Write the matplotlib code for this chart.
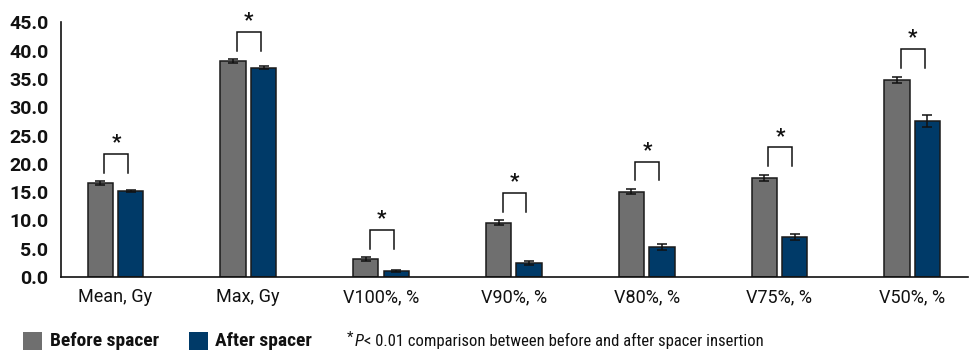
import matplotlib
matplotlib.use("Agg")
import matplotlib.pyplot as plt
from matplotlib import font_manager
from matplotlib.patches import Rectangle
import numpy as np

categories = ["Mean, Gy", "Max, Gy", "V100%, %", "V90%, %", "V80%, %", "V75%, %", "V50%, %"]
before = [16.6, 38.2, 3.2, 9.6, 15.1, 17.5, 34.9]
before_err = [0.3, 0.3, 0.3, 0.4, 0.5, 0.6, 0.55]
after = [15.2, 37.0, 1.0, 2.5, 5.3, 7.1, 27.6]
after_err = [0.25, 0.25, 0.2, 0.4, 0.5, 0.5, 1.0]
significant = [True] * 7
yticks = [0, 5, 10, 15, 20, 25, 30, 35, 40, 45]
series_labels = ["Before spacer", "After spacer"]
footnote_parts = ["*", "P", "< 0.01 comparison between before and after spacer insertion"]

available = {f.name for f in font_manager.fontManager.ttflist}
cond = None
for c in ["Roboto Condensed", "Liberation Sans Narrow", "Open Sans Condensed", "Noto Sans Condensed"]:
    if c in available:
        cond = c
        break
base = "Roboto"
plt.rcParams["font.family"] = [base, "DejaVu Sans"]

c_before = "#6f6f6f"
c_after = "#003a68"

fig = plt.figure(figsize=(9.78, 3.54), dpi=100)
ax = fig.add_axes([61 / 978, 1 - 277 / 354, (968 - 61) / 978, (277 - 22.5) / 354])

x = np.arange(len(categories))
w = 0.19
off = 0.115
ax.bar(x - off, before, w, color=c_before, edgecolor="#1a1a1a", linewidth=1.1, zorder=2)
ax.bar(x + off, after, w, color=c_after, edgecolor="#1a1a1a", linewidth=1.1, zorder=2)
ax.errorbar(x - off, before, yerr=before_err, fmt="none", ecolor="#111111", elinewidth=1.1,
            capsize=3.5, capthick=1.1, zorder=3)
ax.errorbar(x + off, after, yerr=after_err, fmt="none", ecolor="#111111", elinewidth=1.1,
            capsize=3.5, capthick=1.1, zorder=3)

for i, sig in enumerate(significant):
    if not sig:
        continue
    base_y = max(before[i] + before_err[i], after[i] + after_err[i]) + 1.5
    top_y = base_y + 3.3
    xl, xr = i - 0.085, i + 0.095
    ax.plot([xl, xl, xr, xr], [base_y, top_y, top_y, base_y], color="#111111", lw=1.1,
            solid_joinstyle="miter", zorder=3)
    ax.text((xl + xr) / 2, top_y + 0.3, "*", ha="center", va="bottom", fontsize=15,
            fontweight="bold", color="#111111")

ax.set_xlim(-0.41, 6.42)
ax.set_ylim(0, 45)
ax.set_yticks(yticks)
ax.set_yticklabels([f"{v:.1f}" for v in yticks], fontsize=14, fontweight="bold", color="#111111")
ax.set_xticks(x)
ax.set_xticklabels(categories, fontsize=13, color="#111111")
ax.tick_params(axis="both", length=0)
ax.tick_params(axis="y", pad=9)
ax.tick_params(axis="x", pad=8)
for s in ["top", "right"]:
    ax.spines[s].set_visible(False)
for s in ["left", "bottom"]:
    ax.spines[s].set_linewidth(1.2)
    ax.spines[s].set_color("#111111")

# legend
W, H = 978, 354
lfam = [cond, base] if cond else [base]
lsize = 14 if cond else 12
fig.add_artist(Rectangle((23 / W, 1 - 350 / H), 19 / W, 18 / H, transform=fig.transFigure,
                         facecolor=c_before, edgecolor="none"))
fig.text(50 / W, 1 - 341 / H, series_labels[0], ha="left", va="center", fontsize=lsize,
         fontweight="bold", family=lfam, color="#111111")
fig.add_artist(Rectangle((189 / W, 1 - 350 / H), 19 / W, 18 / H, transform=fig.transFigure,
                         facecolor=c_after, edgecolor="none"))
fig.text(215 / W, 1 - 341 / H, series_labels[1], ha="left", va="center", fontsize=lsize,
         fontweight="bold", family=lfam, color="#111111")

fsize = 12 if cond else 10.3
renderer = fig.canvas.get_renderer()
t1 = fig.text(347 / W, 1 - 337.5 / H, footnote_parts[0], ha="left", va="center", fontsize=fsize * 0.9,
              family=lfam, color="#111111")
bb = t1.get_window_extent(renderer)
t2 = fig.text((bb.x1 + 1) / W, 1 - 341 / H, footnote_parts[1], ha="left", va="center",
              fontsize=fsize, style="italic", family=lfam, color="#111111")
bb = t2.get_window_extent(renderer)
fig.text((bb.x1 + 0.5) / W, 1 - 341 / H, footnote_parts[2], ha="left", va="center",
         fontsize=fsize, family=lfam, color="#111111")

fig.savefig("out.png", dpi=100)
